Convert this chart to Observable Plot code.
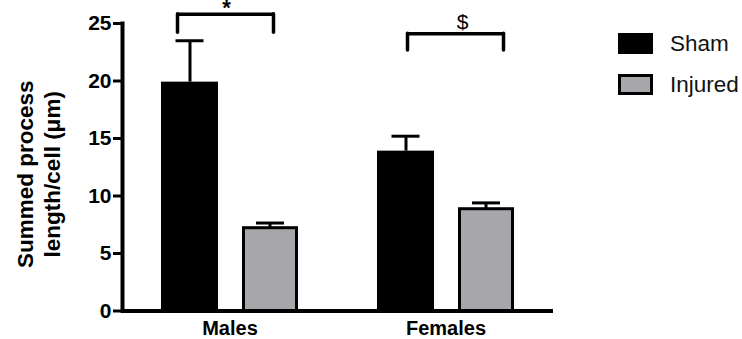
<!DOCTYPE html>
<html>
<head>
<meta charset="utf-8">
<script src="https://cdn.jsdelivr.net/npm/d3@7"></script>
<script src="https://cdn.jsdelivr.net/npm/@observablehq/plot@0.6"></script>
<style>
  html, body { margin: 0; padding: 0; background: #fff; }
  #wrap { position: relative; width: 742px; height: 339px; font-family: "Liberation Sans", Arial, sans-serif; }
  #legend { position: absolute; left: 618px; top: 33px; }
  .row { display: flex; align-items: center; height: 21px; margin-bottom: 20px; }
  .sw { width: 35px; height: 21px; box-sizing: border-box; margin-right: 17px; }
  .lab { font-size: 22.5px; color: #111; }
</style>
</head>
<body>
<div id="wrap"></div>
<script>
// ---- data ----
const groups = ["Males", "Females"];
const series = ["Sham", "Injured"];
const shamMean = [19.9, 13.9];
const shamSEM = [3.6, 1.3];
const injuredMean = [7.2, 8.85];
const injuredSEM = [0.45, 0.55];
const yTicks = [0, 5, 10, 15, 20, 25];
const yTitle = "Summed process\nlength/cell (\u03bcm)";
const bracketTop = [25.8, 24.1];
const bracketLeg = [24.2, 22.65];
const bracketLabel = ["*", "$"];
const colors = {Sham: "#000000", Injured: "#a7a6ab"};

// ---- tables ----
const sham = groups.map((g, i) => ({group: g, mean: shamMean[i], hi: shamMean[i] + shamSEM[i]}));
const injured = groups.map((g, i) => ({group: g, mean: injuredMean[i], hi: injuredMean[i] + injuredSEM[i]}));
const brackets = groups.map((g, i) => ({group: g, top: bracketTop[i], leg: bracketLeg[i], label: bracketLabel[i]}));
const bM = brackets.filter(d => d.group === "Males");
const bF = brackets.filter(d => d.group === "Females");

const font = '"Liberation Sans", Arial, sans-serif';

const chart = Plot.plot({
  width: 742,
  height: 339,
  marginLeft: 122,
  marginRight: 189,
  marginTop: 23,
  marginBottom: 28.5,
  style: {fontFamily: font, background: "#fff", color: "#000"},
  x: {domain: groups, paddingInner: 0.365, paddingOuter: 0.18, axis: null},
  y: {domain: [0, 25], axis: null},
  marks: [
    // error bars (behind bars)
    Plot.ruleX(sham, {x: "group", y1: "mean", y2: "hi", dx: -40, stroke: "#000", strokeWidth: 3}),
    Plot.tickY(sham, {x: "group", y: "hi", insetLeft: 14.5, insetRight: 94.5, stroke: "#000", strokeWidth: 3}),
    Plot.ruleX(injured, {x: "group", y1: "mean", y2: "hi", dx: 40, stroke: "#000", strokeWidth: 3}),
    Plot.tickY(injured, {x: "group", y: "hi", insetLeft: 95, insetRight: 14, stroke: "#000", strokeWidth: 3}),
    // bars
    Plot.barY(sham, {x: "group", y: "mean", insetLeft: 0, insetRight: 80, fill: colors.Sham}),
    Plot.barY(injured, {x: "group", y: "mean", insetLeft: 82.5, insetRight: 1.5, fill: colors.Injured, stroke: "#000", strokeWidth: 3}),
    // axes
    Plot.axisY({ticks: yTicks, tickSize: 9, tickPadding: 2, strokeWidth: 3, fontSize: 21, fontWeight: "bold", label: null}),
    Plot.axisX({tickSize: 0, tickPadding: 10, fontSize: 20, fontWeight: "bold", label: null}),
    Plot.frame({anchor: "left", strokeWidth: 4}),
    Plot.ruleY([0], {strokeWidth: 4}),
    Plot.text([yTitle], {frameAnchor: "left", rotate: -90, dx: -85, dy: 7, fontSize: 22.5, fontWeight: "bold", lineHeight: 1.22, textAnchor: "middle", lineAnchor: "middle"}),
    // significance brackets
    Plot.tickY(bM, {x: "group", y: "top", insetLeft: 16, insetRight: 25, strokeWidth: 3.5}),
    Plot.ruleX(bM, {x: "group", y1: "leg", y2: "top", dx: -52.5, strokeWidth: 3.5, strokeLinecap: "round"}),
    Plot.ruleX(bM, {x: "group", y1: "leg", y2: "top", dx: 43.5, strokeWidth: 3.5, strokeLinecap: "round"}),
    Plot.tickY(bF, {x: "group", y: "top", insetLeft: 30, insetRight: 11, strokeWidth: 3.5}),
    Plot.ruleX(bF, {x: "group", y1: "leg", y2: "top", dx: -38.5, strokeWidth: 3.5, strokeLinecap: "round"}),
    Plot.ruleX(bF, {x: "group", y1: "leg", y2: "top", dx: 57.5, strokeWidth: 3.5, strokeLinecap: "round"}),
    Plot.text(bM, {x: "group", y: "top", text: "label", dx: -3.5, dy: 1, fontSize: 22, fontWeight: "bold", lineAnchor: "bottom"}),
    Plot.text(bF, {x: "group", y: "top", text: "label", dx: 16.5, dy: -5, fontSize: 21, lineAnchor: "bottom"})
  ]
});

const wrap = document.getElementById("wrap");
wrap.appendChild(chart);

// legend
const legend = document.createElement("div");
legend.id = "legend";
series.forEach(s => {
  const row = document.createElement("div");
  row.className = "row";
  const sw = document.createElement("div");
  sw.className = "sw";
  sw.style.background = colors[s];
  if (s === "Injured") sw.style.border = "3px solid #000";
  const lab = document.createElement("span");
  lab.className = "lab";
  lab.textContent = s;
  row.appendChild(sw);
  row.appendChild(lab);
  legend.appendChild(row);
});
wrap.appendChild(legend);
</script>
</body>
</html>
